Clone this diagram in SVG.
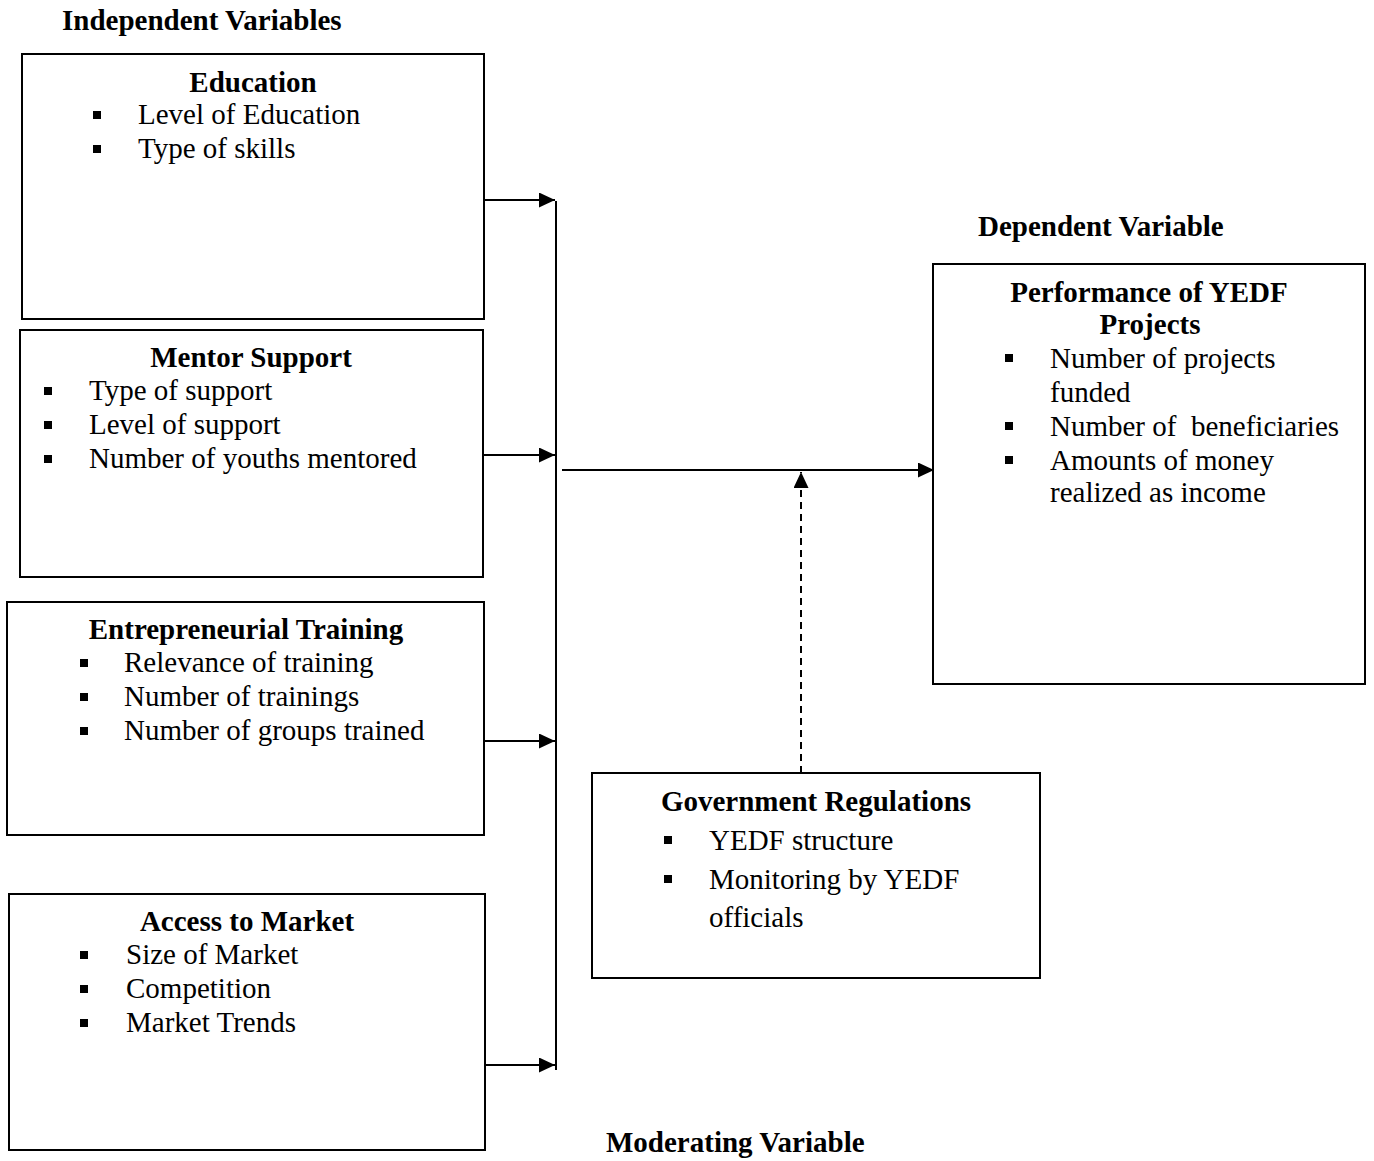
<svg xmlns="http://www.w3.org/2000/svg" width="1374" height="1161" viewBox="0 0 1374 1161">
<style>
text{font-family:"Liberation Serif","Times New Roman",serif;font-size:29px;fill:#000}
.h{font-weight:bold}
.t{font-weight:bold;text-anchor:middle}
.box{fill:#fff;stroke:#000;stroke-width:2}
.b{fill:#000}
.ln{stroke:#000;stroke-width:2;fill:none}
.dash{stroke:#000;stroke-width:2;fill:none;stroke-dasharray:7,5}
</style>
<defs>
<marker id="ah" viewBox="0 0 16 15" refX="16" refY="7.5" markerWidth="16" markerHeight="15" markerUnits="userSpaceOnUse" orient="auto">
<path d="M0,0 L16,7.5 L0,15 Z" fill="#000"/>
</marker>
</defs>
<text class="h" x="62" y="30">Independent Variables</text>
<text class="h" x="978" y="236">Dependent Variable</text>
<text class="h" x="606" y="1152">Moderating Variable</text>
<g id="connectors">
<line class="ln" x1="556" y1="201" x2="556" y2="1070"/>
<line class="ln" x1="484" y1="200" x2="555" y2="200" marker-end="url(#ah)"/>
<line class="ln" x1="483" y1="455" x2="555" y2="455" marker-end="url(#ah)"/>
<line class="ln" x1="484" y1="741" x2="555" y2="741" marker-end="url(#ah)"/>
<line class="ln" x1="486" y1="1065" x2="555" y2="1065" marker-end="url(#ah)"/>
<line class="ln" x1="562" y1="470" x2="934" y2="470" marker-end="url(#ah)"/>
<line class="dash" x1="801" y1="773" x2="801" y2="472" marker-end="url(#ah)"/>
</g>
<g id="education">
<rect class="box" x="22" y="54" width="462" height="265"/>
<text class="t" x="253" y="92">Education</text>
<rect class="b" x="93" y="111" width="8" height="8"/><text x="138" y="124">Level of Education</text>
<rect class="b" x="93" y="145" width="8" height="8"/><text x="138" y="158">Type of skills</text>
</g>
<g id="mentor">
<rect class="box" x="20" y="330" width="463" height="247"/>
<text class="t" x="251" y="367">Mentor Support</text>
<rect class="b" x="44" y="387" width="8" height="8"/><text x="89" y="400">Type of support</text>
<rect class="b" x="44" y="421" width="8" height="8"/><text x="89" y="434">Level of support</text>
<rect class="b" x="44" y="455" width="8" height="8"/><text x="89" y="468">Number of youths mentored</text>
</g>
<g id="training">
<rect class="box" x="7" y="602" width="477" height="233"/>
<text class="t" x="246" y="639">Entrepreneurial Training</text>
<rect class="b" x="80" y="659" width="8" height="8"/><text x="124" y="672">Relevance of training</text>
<rect class="b" x="80" y="693" width="8" height="8"/><text x="124" y="706">Number of trainings</text>
<rect class="b" x="80" y="727" width="8" height="8"/><text x="124" y="740">Number of groups trained</text>
</g>
<g id="market">
<rect class="box" x="9" y="894" width="476" height="256"/>
<text class="t" x="247" y="931">Access to Market</text>
<rect class="b" x="80" y="951" width="8" height="8"/><text x="126" y="964">Size of Market</text>
<rect class="b" x="80" y="985" width="8" height="8"/><text x="126" y="998">Competition</text>
<rect class="b" x="80" y="1019" width="8" height="8"/><text x="126" y="1032">Market Trends</text>
</g>
<g id="performance">
<rect class="box" x="933" y="264" width="432" height="420"/>
<text class="t" x="1149" y="302">Performance of YEDF</text>
<text class="t" x="1150" y="334">Projects</text>
<rect class="b" x="1005" y="354" width="8" height="8"/><text x="1050" y="368">Number of projects</text>
<text x="1050" y="402">funded</text>
<rect class="b" x="1005" y="422" width="8" height="8"/><text x="1050" y="436" xml:space="preserve">Number of  beneficiaries</text>
<rect class="b" x="1005" y="456" width="8" height="8"/><text x="1050" y="470">Amounts of money</text>
<text x="1050" y="502">realized as income</text>
</g>
<g id="government">
<rect class="box" x="592" y="773" width="448" height="205"/>
<text class="t" x="816" y="811">Government Regulations</text>
<rect class="b" x="664" y="836" width="8" height="8"/><text x="709" y="850">YEDF structure</text>
<rect class="b" x="664" y="875" width="8" height="8"/><text x="709" y="889">Monitoring by YEDF</text>
<text x="709" y="927">officials</text>
</g>
</svg>
